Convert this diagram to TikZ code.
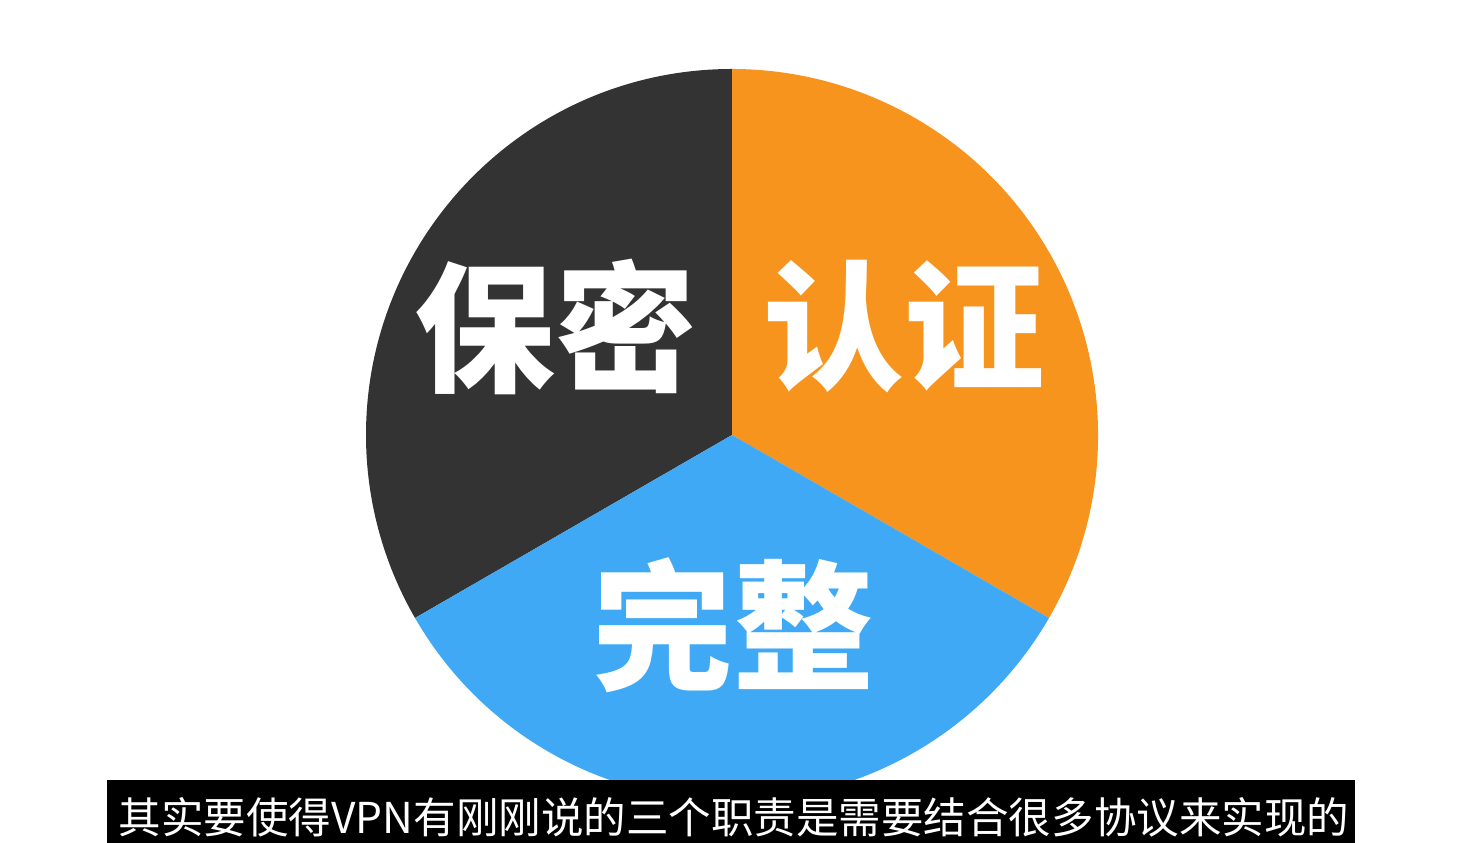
\documentclass[tikz,border=0pt]{standalone}
\usepackage{fontspec}
\usepackage{xcolor}
\usepackage{tikz}
\usetikzlibrary{positioning}
\newfontfamily\cjk{Noto Sans CJK SC}
\definecolor{piedark}{HTML}{333333}
\definecolor{pieorange}{HTML}{F7941E}
\definecolor{pieblue}{HTML}{3FA9F5}

\begin{document}
\begin{tikzpicture}[
    seclabel/.style={text=white, font=\cjk\bfseries\fontsize{80}{80}\selectfont, inner sep=0pt},
    subline/.style={text=white, font=\cjk\fontsize{24.2}{25}\selectfont, inner sep=0pt}
  ]
    \useasboundingbox[fill=white] (0,0) rectangle (29.66,16.86);
    \coordinate (c) at (14.64,8.16);
    \fill[piedark] (c) -- ++(90:7.32) arc[start angle=90, end angle=210, radius=7.32] -- cycle;
    \fill[pieorange] (c) -- ++(-30:7.32) arc[start angle=-30, end angle=90, radius=7.32] -- cycle;
    \fill[pieblue] (c) -- ++(210:7.32) arc[start angle=210, end angle=330, radius=7.32] -- cycle;
    \node[seclabel] (baomi) at (11.10,10.32) {保密};
    \node[seclabel] (renzheng) at (18.08,10.32) {认证};
    \node[seclabel] (wanzheng) at (14.66,4.36) {完整};
    % subtitle bar
    \fill[black] (2.14,0) rectangle (27.10,1.26);
    \node[subline] (subtitle) at (14.68,0.52) {其实要使得VPN有刚刚说的三个职责是需要结合很多协议来实现的};
\end{tikzpicture}
\end{document}
